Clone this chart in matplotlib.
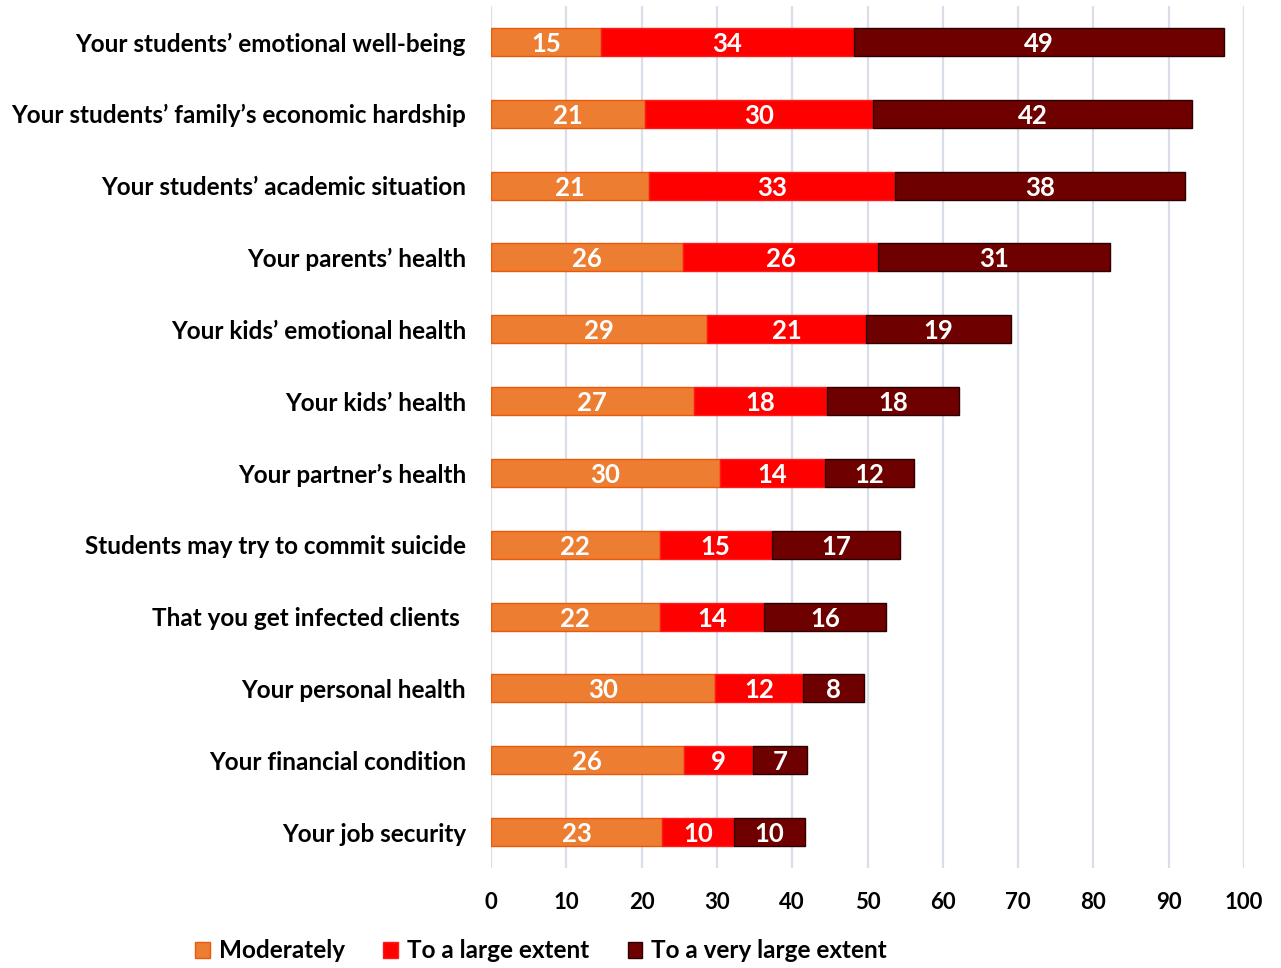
import matplotlib
matplotlib.use("Agg")
import matplotlib.pyplot as plt
import numpy as np
from matplotlib.patches import Patch

categories = [
    "Your students\u2019 emotional well-being",
    "Your students\u2019 family\u2019s economic hardship",
    "Your students\u2019 academic situation",
    "Your parents\u2019 health",
    "Your kids\u2019 emotional health",
    "Your kids\u2019 health",
    "Your partner\u2019s health",
    "Students may try to commit suicide",
    "That you get infected clients ",
    "Your personal health",
    "Your financial condition",
    "Your job security",
]
series_names = ["Moderately", "To a large extent", "To a very large extent"]
moderately = [14.6, 20.5, 21.0, 25.5, 28.7, 26.9, 30.4, 22.4, 22.4, 29.7, 25.6, 22.7]
large = [33.6, 30.2, 32.7, 25.9, 21.1, 17.7, 13.9, 14.9, 13.9, 11.8, 9.2, 9.6]
very_large = [49.2, 42.4, 38.4, 30.8, 19.2, 17.5, 11.9, 17.0, 16.2, 8.0, 7.2, 9.4]
labels_moderately = [15, 21, 21, 26, 29, 27, 30, 22, 22, 30, 26, 23]
labels_large = [34, 30, 33, 26, 21, 18, 14, 15, 14, 12, 9, 10]
labels_very_large = [49, 42, 38, 31, 19, 18, 12, 17, 16, 8, 7, 10]
x_ticks = [0, 10, 20, 30, 40, 50, 60, 70, 80, 90, 100]

colors = ["#ED7D31", "#FF0000", "#6E0000"]
edges = ["#E8590C", "#FF1A1A", "#2A0000"]

plt.rcParams['font.family'] = ['Lato', 'DejaVu Sans']

fig = plt.figure(figsize=(12.81, 9.68), dpi=100)
ax = fig.add_axes([491/1281, 1-868/968, (1244-491)/1281, (868-6)/968])

y = np.arange(len(categories))
left = np.zeros(len(categories))
series = [moderately, large, very_large]
labs = [labels_moderately, labels_large, labels_very_large]
for vals, lab, c, ec, name in zip(series, labs, colors, edges, series_names):
    vals = np.array(vals)
    ax.barh(y, vals, left=left, height=0.39, color=c, edgecolor=ec,
            linewidth=1.0, label=name, zorder=3)
    for yi, l, v, t in zip(y, left, vals, lab):
        ax.text(l + v/2, yi, str(t), ha='center', va='center_baseline', color='white',
                fontsize=18.5, fontweight='bold', zorder=4)
    left = left + vals

ax.set_xlim(0, 100)
ax.set_ylim(len(categories) - 0.5, -0.5)
ax.set_xticks(x_ticks)
ax.set_xticklabels([str(t) for t in x_ticks], fontsize=16, fontweight='bold')
ax.set_yticks(y)
ax.set_yticklabels(categories, fontsize=17.5, fontweight='bold')
ax.tick_params(axis='both', length=0)
ax.tick_params(axis='x', pad=17)
ax.tick_params(axis='y', pad=18)
ax.grid(axis='x', color='#D9DEE8', linewidth=1.6, zorder=0)
ax.set_axisbelow(True)
for s in ax.spines.values():
    s.set_visible(False)

handles = [Patch(facecolor=c, edgecolor=ec, linewidth=1.0) for c, ec in zip(colors, edges)]
leg = fig.legend(handles, series_names, loc='center', bbox_to_anchor=(541/1281, 1-951/968),
                 ncol=3, frameon=False, handlelength=0.6, handleheight=0.6,
                 handletextpad=0.35, columnspacing=1.6, prop={'size': 17.5, 'weight': 'bold'})

fig.savefig("out.png", dpi=100)
